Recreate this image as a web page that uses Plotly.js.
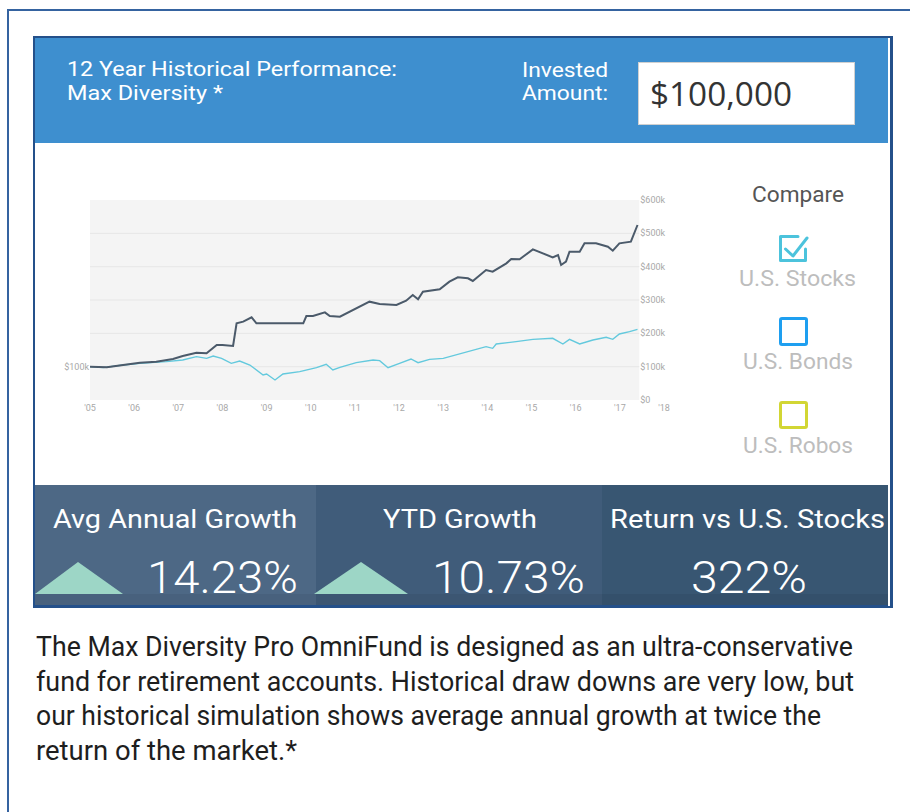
<!DOCTYPE html>
<html>
<head>
<meta charset="utf-8">
<script src="https://cdn.plot.ly/plotly-3.0.1.min.js"></script>
<style>
  html, body { margin:0; padding:0; background:#fff; }
  body { width:910px; height:812px; position:relative; overflow:hidden; font-family:"Open Sans", "Noto Sans", sans-serif; }
  .abs { position:absolute; }
  .t { position:absolute; white-space:nowrap; display:inline-block; transform-origin:0 0; }
  .os { font-family:"Open Sans", "Noto Sans", sans-serif; }
  .rb { font-family:Roboto, "Noto Sans", sans-serif; }
  #chart { position:absolute; left:0; top:0; width:910px; height:812px; z-index:5; }
</style>
</head>
<body>
<!-- outer frame -->
<div class="abs" style="left:7px; top:9px; width:920px; height:820px; border-left:2px solid #3563a0; border-top:2px solid #3563a0;"></div>
<!-- card -->
<div class="abs" style="left:33px; top:36px; width:855px; height:568px; border:2px solid #24508a; border-right-width:3px; background:#fff;"></div>
<!-- header -->
<div class="abs" style="left:35px; top:38px; width:853px; height:105px; background:#3e8fcf;"></div>
<div class="t rb" data-w="330" style="left:67px; top:60px; color:#fff; font-size:19.5px; line-height:19.5px;">12 Year Historical Performance:</div>
<div class="t rb" data-w="156" style="left:67px; top:83.5px; color:#fff; font-size:19.5px; line-height:19.5px;">Max Diversity *</div>
<div class="t rb" data-w="86" style="left:522px; top:61px; color:#fff; font-size:19.5px; line-height:19.5px;">Invested</div>
<div class="t rb" data-w="86" style="left:522px; top:83.5px; color:#fff; font-size:19.5px; line-height:19.5px;">Amount:</div>
<div class="abs" style="left:638px; top:62px; width:215px; height:61px; background:#fff; border:1px solid #d0d0d0;"></div>
<div class="t os" data-w="142" style="left:650px; top:78px; color:#333; font-size:32px; line-height:32px;">$100,000</div>

<!-- compare panel -->
<div class="t rb" data-w="92" style="left:752px; top:184px; color:#555; font-size:22px; line-height:22px;">Compare</div>
<svg class="abs" style="left:776px; top:232px;" width="36" height="34" viewBox="0 0 36 34">
  <path d="M22 4.5 H4.5 V28.5 H29.5 V17" fill="none" stroke="#4cc3dc" stroke-width="3" stroke-linejoin="round" stroke-linecap="round"/>
  <path d="M9.5 17 L17 24 L31 6" fill="none" stroke="#4cc3dc" stroke-width="3" stroke-linejoin="round" stroke-linecap="round"/>
</svg>
<div class="t rb" data-w="117" style="left:739px; top:267px; color:#bdbdbd; font-size:22.5px; line-height:22.5px;">U.S. Stocks</div>
<div class="abs" style="left:779px; top:317px; width:23px; height:23px; border:3px solid #1e9ff0; border-radius:3px;"></div>
<div class="t rb" data-w="110" style="left:743px; top:350px; color:#bdbdbd; font-size:22.5px; line-height:22.5px;">U.S. Bonds</div>
<div class="abs" style="left:779px; top:401px; width:23px; height:22px; border:3px solid #d2d634; border-radius:3px;"></div>
<div class="t rb" data-w="110" style="left:743px; top:434px; color:#bdbdbd; font-size:22.5px; line-height:22.5px;">U.S. Robos</div>

<!-- bottom stat panels -->
<div class="abs" style="left:35px; top:485px; width:281px; height:120px; background:#4d6885;"></div>
<div class="abs" style="left:316px; top:485px; width:286px; height:120px; background:#405c7a;"></div>
<div class="abs" style="left:602px; top:485px; width:286px; height:120px; background:#385672;"></div>
<div class="abs" style="left:35px; top:594px; width:853px; height:11px; background:rgba(0,0,0,0.06);"></div>
<div class="abs" style="left:35px; top:605px; width:853px; height:2px; background:#24508a;"></div>

<div class="t rb" data-w="244" style="left:53px; top:507px; color:#fff; font-size:25.5px; line-height:25.5px;">Avg Annual Growth</div>
<div class="t rb" data-w="154" style="left:383px; top:507px; color:#fff; font-size:25.5px; line-height:25.5px;">YTD Growth</div>
<div class="t rb" data-w="275" style="left:610px; top:507px; color:#fff; font-size:25.5px; line-height:25.5px;">Return vs U.S. Stocks</div>

<svg class="abs" style="left:0; top:0;" width="910" height="812">
  <polygon points="35,594 78,562 123,594" fill="#9dd6c6"/>
  <polygon points="314,594 361,562 408,594" fill="#9dd6c6"/>
</svg>

<div class="t rb" data-w="151" style="left:147px; top:556px; color:#fff; font-size:44px; line-height:44px; font-weight:300;">14.23%</div>
<div class="t rb" data-w="153" style="left:432px; top:556px; color:#fff; font-size:44px; line-height:44px; font-weight:300;">10.73%</div>
<div class="t rb" data-w="116" style="left:691px; top:556px; color:#fff; font-size:44px; line-height:44px; font-weight:300;">322%</div>

<!-- caption -->
<div class="t rb" data-w="817" style="left:36px; top:634px; color:#1e1e1e; font-size:27px; line-height:27px;">The Max Diversity Pro OmniFund is designed as an ultra-conservative</div>
<div class="t rb" data-w="818" style="left:36px; top:669px; color:#1e1e1e; font-size:27px; line-height:27px;">fund for retirement accounts. Historical draw downs are very low, but</div>
<div class="t rb" data-w="785" style="left:36px; top:703px; color:#1e1e1e; font-size:27px; line-height:27px;">our historical simulation shows average annual growth at twice the</div>
<div class="t rb" data-w="261" style="left:36px; top:738px; color:#1e1e1e; font-size:27px; line-height:27px;">return of the market.*</div>

<div id="chart"></div>

<script>
// ---- data (values in $ thousands) ----
const fundYears = [2005.0, 2005.38, 2005.75, 2006.13, 2006.5, 2006.88, 2007.1, 2007.41, 2007.64, 2007.87, 2008.0, 2008.24, 2008.32, 2008.47, 2008.66, 2008.77, 2009.15, 2009.6, 2009.83, 2009.9, 2010.05, 2010.32, 2010.43, 2010.66, 2011.03, 2011.33, 2011.56, 2011.94, 2012.16, 2012.31, 2012.43, 2012.54, 2012.92, 2013.14, 2013.33, 2013.56, 2013.67, 2013.97, 2014.12, 2014.43, 2014.54, 2014.73, 2015.03, 2015.26, 2015.48, 2015.6, 2015.67, 2015.78, 2015.86, 2016.09, 2016.2, 2016.46, 2016.73, 2016.84, 2016.99, 2017.25, 2017.33, 2017.4];
const fundValues = [100, 98, 105, 112, 115, 123, 132, 142, 140, 165, 165, 162, 230, 235, 248, 230, 230, 230, 230, 252, 252, 263, 252, 250, 275, 295, 288, 285, 298, 315, 302, 325, 332, 355, 368, 365, 357, 390, 385, 410, 423, 422, 452, 440, 428, 435, 405, 415, 445, 445, 470, 470, 460, 448, 470, 475, 505, 525];

const stockYears = [2005.0, 2005.3, 2005.75, 2006.13, 2006.73, 2007.1, 2007.41, 2007.64, 2007.79, 2007.98, 2008.2, 2008.39, 2008.62, 2008.77, 2008.92, 2009.0, 2009.19, 2009.37, 2009.75, 2010.13, 2010.35, 2010.5, 2010.66, 2011.03, 2011.41, 2011.56, 2011.75, 2012.01, 2012.27, 2012.43, 2012.69, 2013.0, 2013.45, 2013.97, 2014.12, 2014.2, 2014.65, 2015.03, 2015.48, 2015.71, 2015.86, 2016.09, 2016.39, 2016.69, 2016.84, 2016.99, 2017.22, 2017.4];
const stockValues = [100, 97, 105, 110, 115, 120, 130, 125, 132, 125, 110, 117, 105, 90, 75, 78, 60, 78, 85, 97, 107, 90, 98, 112, 120, 118, 97, 110, 123, 112, 122, 125, 142, 160, 155, 168, 175, 182, 185, 168, 182, 168, 180, 188, 182, 198, 205, 212];

const xTickVals = [2005, 2006, 2007, 2008, 2009, 2010, 2011, 2012, 2013, 2014, 2015, 2016, 2017, 2018];
const xTickText = ["'05", "'06", "'07", "'08", "'09", "'10", "'11", "'12", "'13", "'14", "'15", "'16", "'17", "'18"];
const yTickVals = [0, 100, 200, 300, 400, 500, 600];
const yTickText = ['$0', '$100k', '$200k', '$300k', '$400k', '$500k', '$600k'];
const startTickVals = [100];
const startTickText = ['$100k'];
const plotEndYear = 2017.44;

// fit decorative texts to the widths measured on the reference
document.querySelectorAll('.t[data-w]').forEach(el => {
  const w = el.getBoundingClientRect().width;
  const target = parseFloat(el.dataset.w);
  if (w > 0) el.style.transform = 'scaleX(' + (target / w).toFixed(4) + ')';
});

const tickFont = {family: 'Roboto, sans-serif', size: 9, color: '#a8a8a8'};

const shapes = [{
  type: 'rect', xref: 'x', yref: 'paper', x0: xTickVals[0], x1: plotEndYear, y0: 0, y1: 1,
  fillcolor: '#f4f4f4', line: {width: 0}, layer: 'below'
}];
yTickVals.slice(1, -1).forEach(v => shapes.push({
  type: 'line', xref: 'x', yref: 'y', x0: xTickVals[0], x1: plotEndYear, y0: v, y1: v,
  line: {color: '#e6e6e6', width: 1}, layer: 'below'
}));

const traces = [
  {x: stockYears, y: stockValues, type: 'scatter', mode: 'lines', yaxis: 'y',
   line: {color: '#63c9dd', width: 1.4}, hoverinfo: 'skip'},
  {x: fundYears, y: fundValues, type: 'scatter', mode: 'lines', yaxis: 'y2',
   line: {color: '#4b5a6a', width: 2}, hoverinfo: 'skip'}
];

const layout = {
  width: 910, height: 812,
  margin: {l: 90, r: 246, t: 200, b: 412},
  paper_bgcolor: 'rgba(0,0,0,0)', plot_bgcolor: 'rgba(0,0,0,0)',
  showlegend: false,
  xaxis: {range: [2005, 2018], tickvals: xTickVals, ticktext: xTickText, showgrid: false,
          zeroline: false, showline: false, ticks: '', tickfont: tickFont, ticklabelstandoff: 1},
  yaxis: {range: [0, 600], tickvals: startTickVals, ticktext: startTickText, showgrid: false,
          zeroline: false, showline: false, ticks: '', tickfont: tickFont, side: 'left'},
  yaxis2: {range: [0, 600], tickvals: yTickVals, ticktext: yTickText, showgrid: false,
           zeroline: false, showline: false, ticks: '', tickfont: tickFont, overlaying: 'y',
           anchor: 'free', position: (plotEndYear - 2005) / 13, side: 'right'},
  shapes: shapes
};

Plotly.newPlot('chart', traces, layout, {staticPlot: true, displayModeBar: false});
</script>
</body>
</html>
